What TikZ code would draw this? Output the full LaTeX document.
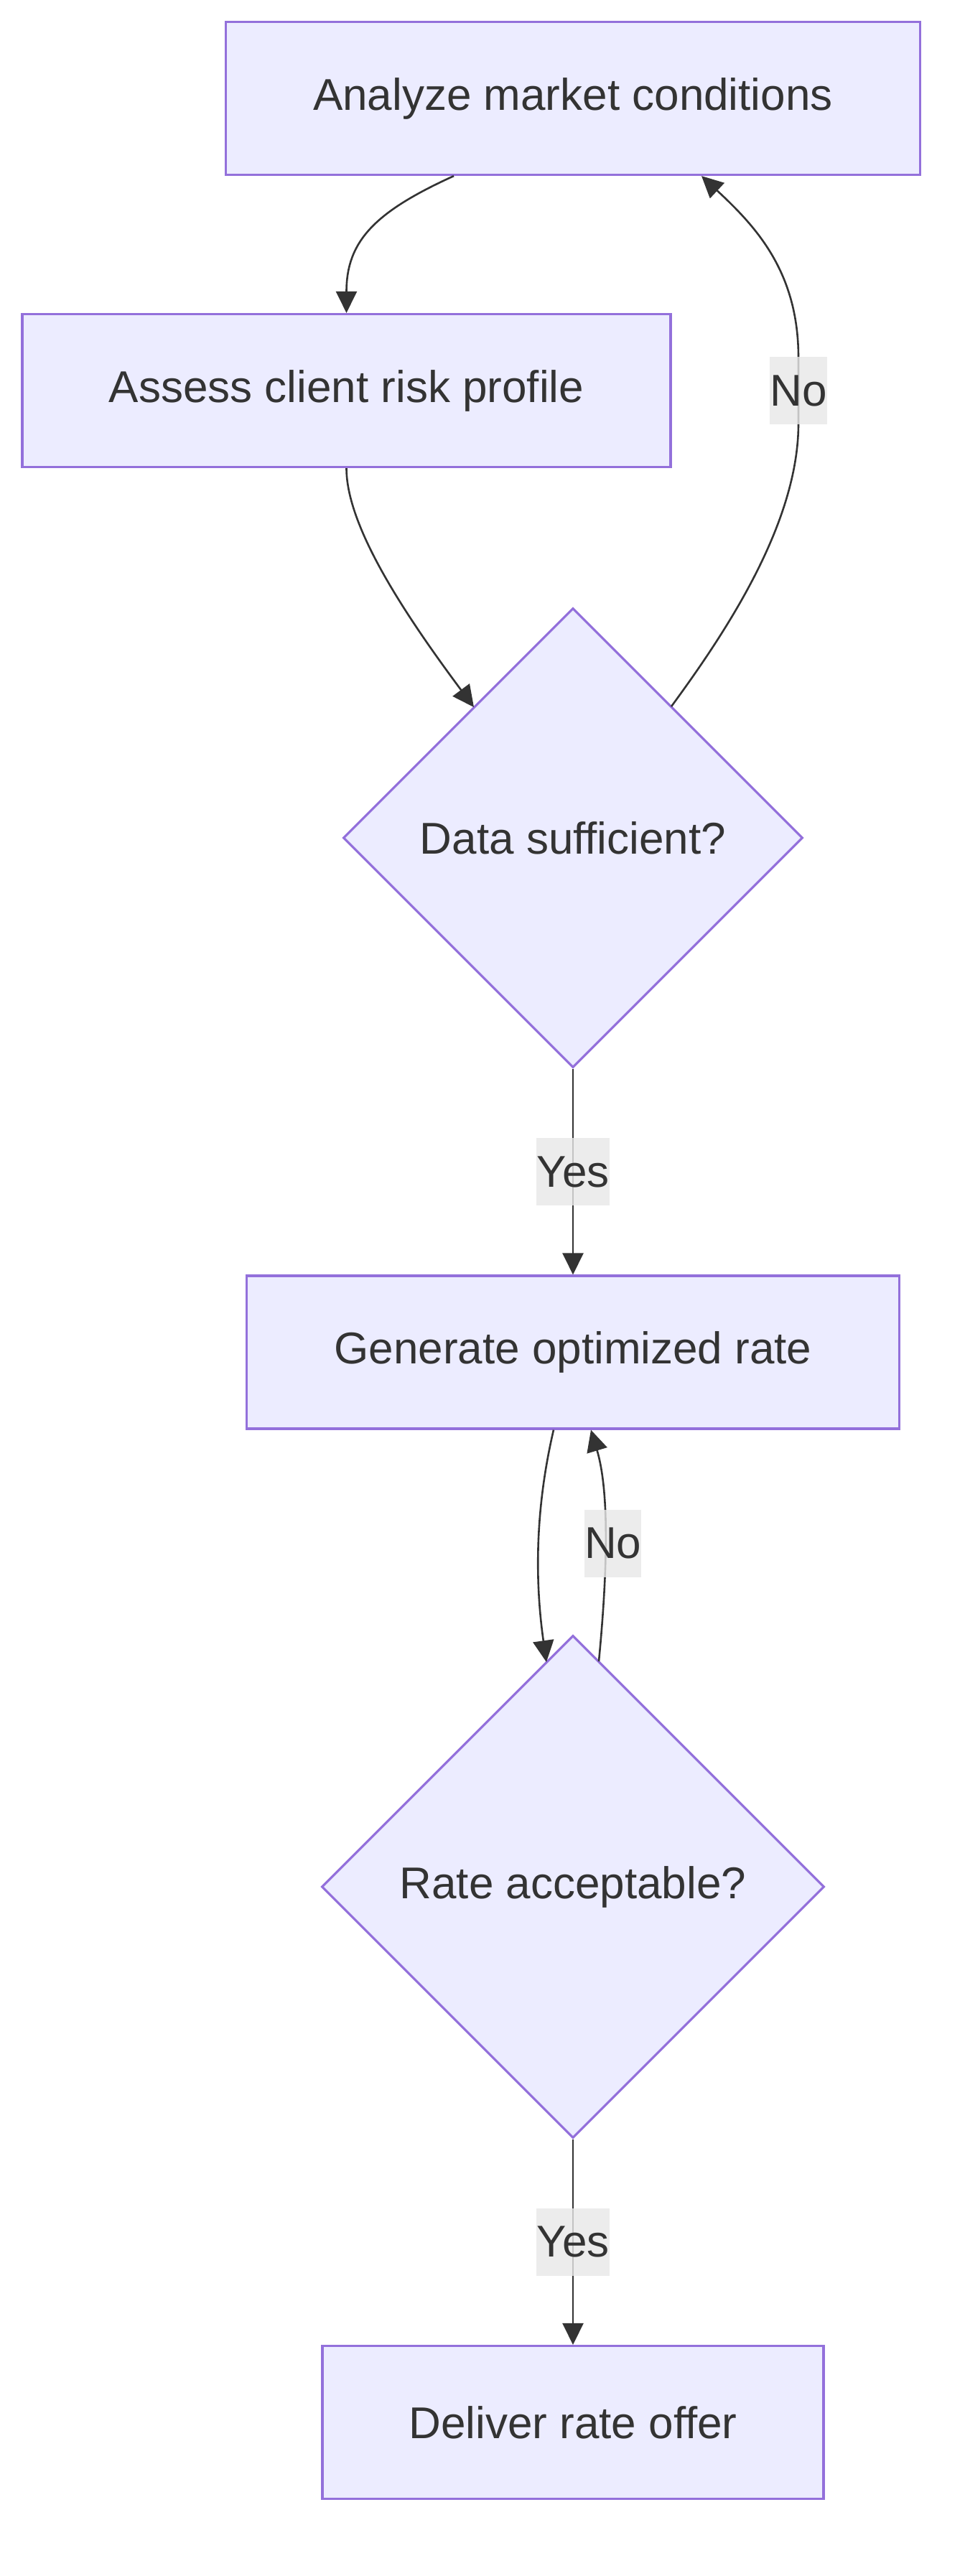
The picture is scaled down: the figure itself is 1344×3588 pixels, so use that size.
\documentclass[tikz,border=0pt]{standalone}
\usepackage{fontspec}
\setmainfont{Liberation Sans}
\usetikzlibrary{arrows.meta,shapes.geometric,calc}
\definecolor{nodefill}{HTML}{ECECFF}
\definecolor{nodeline}{HTML}{9370DB}
\definecolor{txt}{HTML}{333333}
\definecolor{lblbg}{HTML}{E8E8E8}
\begin{document}
\begin{tikzpicture}[x=0.5pt,y=-0.5pt,
  box/.style={draw=nodeline, fill=nodefill, line width=1.6pt, text=txt,
    font=\fontsize{31pt}{37pt}\selectfont, inner sep=0pt, minimum height=106.5pt},
  dec/.style={diamond, aspect=1, draw=nodeline, fill=nodefill, line width=1.6pt, text=txt,
    font=\fontsize{31pt}{37pt}\selectfont, inner sep=0pt},
  edge/.style={draw=txt, line width=1.3pt, -{Triangle[length=15pt,width=14.5pt]}},
  lbl/.style={fill=lblbg, fill opacity=0.8, text opacity=1, text=txt,
    font=\fontsize{31pt}{37pt}\selectfont, inner sep=0pt, minimum height=47pt}
]
\fill[white] (0,0) rectangle (1344,3588);
\useasboundingbox (0,0) rectangle (1344,3588);

\node[box, minimum width=483.5pt] (A) at (798,137) {Analyze market conditions};
\node[box, minimum width=451.5pt] (B) at (482.5,544) {Assess client risk profile};
\node[dec, minimum width=320pt, minimum height=320pt] (C) at (798,1167) {Data sufficient?};
\node[box, minimum width=454.5pt] (D) at (798,1883.5) {Generate optimized rate};
\node[dec, minimum width=350pt, minimum height=350pt] (E) at (798,2628) {Rate acceptable?};
\node[box, minimum width=349pt] (F) at (798,3374) {Deliver rate offer};

\draw[edge] ($(A.south)+(-166,0)$) .. controls +(-110,50) and +(0,-100) .. (B.north);
\draw[edge] (B.south) .. controls +(0,80) and +(-99,-133) .. ($(C.center)+(-138,-182)$);
\draw[edge] ($(C.center)+(137,-183)$) .. controls +(74,-101) and +(0,140) .. (1112,590)
  -- node[lbl]{No} (1112,498) .. controls +(0,-120) and +(75,70) .. ($(A.south)+(179,0)$);
\draw[edge] (C.south) -- node[lbl]{Yes} (D.north);
\draw[edge] ($(D.south)+(-27,0)$) .. controls +(-21,90) and +(-19,-134) .. ($(E.center)+(-37,-313)$);
\draw[edge] ($(E.center)+(36,-314)$) .. controls +(11,-114) and +(27,90) ..
  node[lbl, pos=0.5, xshift=5.5pt, yshift=-3pt]{No} ($(D.south)+(25,0)$);
\draw[edge] (E.south) -- node[lbl]{Yes} (F.north);
\end{tikzpicture}
\end{document}
